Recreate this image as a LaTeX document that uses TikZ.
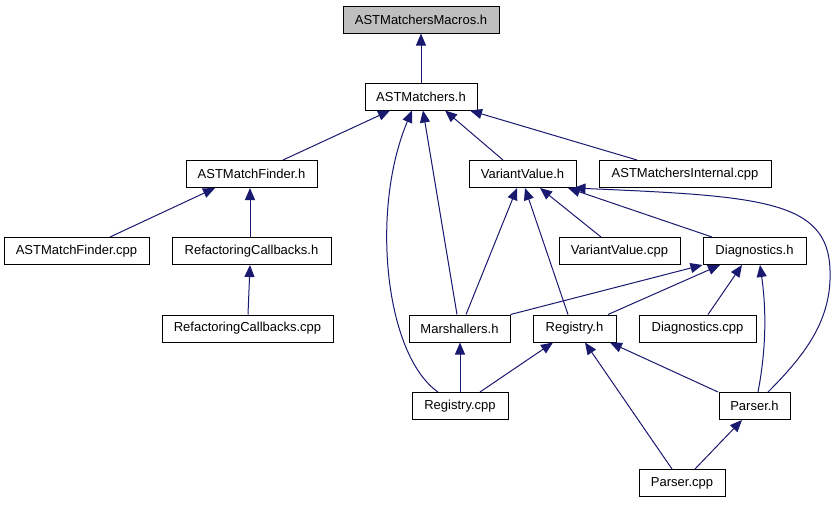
\documentclass[tikz,border=0pt]{standalone}
\usepackage{fontspec}
\setmainfont{Liberation Sans}
\usetikzlibrary{arrows.meta}
\definecolor{edgeblue}{RGB}{25,25,112}
\definecolor{boxgray}{RGB}{191,191,191}
\begin{document}
\begin{tikzpicture}[x=1pt,y=-1pt,
  box/.style={draw=black,line width=1pt,fill=white,minimum height=27pt,inner sep=0pt,
    font=\fontsize{13}{15}\selectfont},
  edge/.style={draw=edgeblue,line width=1pt,-{Triangle[length=12pt,width=10pt]}}]
\useasboundingbox (0,0) rectangle (836,504);
\node[box,fill=boxgray,minimum width=156pt] (macros) at (421,19.5) {ASTMatchersMacros.h};
\node[box,minimum width=112pt] (astm) at (421,96.5) {ASTMatchers.h};
\node[box,minimum width=131pt] (amfh) at (251.5,174) {ASTMatchFinder.h};
\node[box,minimum width=107pt] (vvh) at (522.5,174) {VariantValue.h};
\node[box,minimum width=172pt] (amic) at (685,174) {ASTMatchersInternal.cpp};
\node[box,minimum width=145pt] (amfc) at (76.5,251) {ASTMatchFinder.cpp};
\node[box,minimum width=159pt] (rch) at (251.5,251) {RefactoringCallbacks.h};
\node[box,minimum width=121pt] (vvc) at (619.5,251) {VariantValue.cpp};
\node[box,minimum width=103pt] (dh) at (754.5,251) {Diagnostics.h};
\node[box,minimum width=171pt] (rcc) at (247.5,328.5) {RefactoringCallbacks.cpp};
\node[box,minimum width=101pt] (mh) at (459.5,328.5) {Marshallers.h};
\node[box,minimum width=83pt] (rh) at (574.5,328.5) {Registry.h};
\node[box,minimum width=117pt] (dc) at (697.5,328.5) {Diagnostics.cpp};
\node[box,minimum width=96pt] (rc) at (460,406) {Registry.cpp};
\node[box,minimum width=71pt] (ph) at (754.5,406) {Parser.h};
\node[box,minimum width=86pt] (pc) at (682,483) {Parser.cpp};
% edges
\draw[edge] (astm.north) -- (macros.south);
\draw[edge] ([xshift=31.5pt]amfh.north) -- ([xshift=-31pt]astm.south);
\draw[edge] ([xshift=-22pt]rc.north) .. controls (385,355) and (370,210) .. ([xshift=-9pt]astm.south);
\draw[edge] ([xshift=-2.5pt]mh.north) -- ([xshift=2pt]astm.south);
\draw[edge] ([xshift=-19.5pt]vvh.north) -- ([xshift=24pt]astm.south);
\draw[edge] ([xshift=-48pt]amic.north) -- ([xshift=49pt]astm.south);
\draw[edge] ([xshift=33.5pt]amfc.north) -- ([xshift=-36.5pt]amfh.south);
\draw[edge] ([xshift=-1.5pt]rch.north) -- ([xshift=-1.5pt]amfh.south);
\draw[edge] ([xshift=0.5pt]rcc.north) -- ([xshift=-1.5pt]rch.south);
\draw[edge] ([xshift=6.5pt]mh.north) -- ([xshift=-5.5pt]vvh.south);
\draw[edge] ([xshift=-6.5pt]rh.north) -- ([xshift=2.5pt]vvh.south);
\draw[edge] ([xshift=-18.5pt]vvc.north) -- ([xshift=17.5pt]vvh.south);
\draw[edge] ([xshift=-42.5pt]dh.north) -- ([xshift=45.5pt]vvh.south);
\draw[edge] ([xshift=13.5pt]ph.north) .. controls (805,355) and (832,320) .. (830,270)
  .. controls (828,200) and (760,196) .. ([xshift=-3pt]vvh.south east);
\draw[edge] (mh.north east) -- (dh.south west);
\draw[edge] ([xshift=33.5pt]rh.north) -- ([xshift=-34.5pt]dh.south);
\draw[edge] ([xshift=10.5pt]dc.north) -- ([xshift=-12.5pt]dh.south);
\draw[edge] ([xshift=3.5pt]ph.north) .. controls (768,340) and (765,300) .. ([xshift=5.5pt]dh.south);
\draw[edge] (rc.north) -- ([xshift=0.5pt]mh.south);
\draw[edge] ([xshift=20pt]rc.north) -- ([xshift=-21.5pt]rh.south);
\draw[edge] ([xshift=-36.5pt]ph.north) -- ([xshift=35.5pt]rh.south);
\draw[edge] ([xshift=-10pt]pc.north) -- ([xshift=10.5pt]rh.south);
\draw[edge] ([xshift=13pt]pc.north) -- ([xshift=-12.5pt]ph.south);
\end{tikzpicture}
\end{document}
